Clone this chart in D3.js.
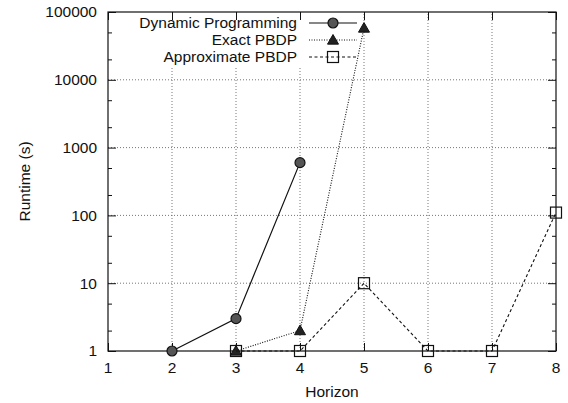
<!DOCTYPE html>
<html><head><meta charset="utf-8">
<script src="https://cdn.jsdelivr.net/npm/d3@7"></script>
<style>body{margin:0;background:#fff}svg{display:block}text{font-family:"Liberation Sans",Arial,Helvetica,sans-serif;fill:#111}</style>
</head><body><div id="chart"></div>
<script>
const horizonsDP = [2, 3, 4];
const valuesDP = [1, 3, 600];
const horizonsExact = [3, 4, 5];
const valuesExact = [1, 2, 58000];
const horizonsApprox = [3, 4, 5, 6, 7, 8];
const valuesApprox = [1, 1, 10, 1, 1, 110];
const xTicks = [1, 2, 3, 4, 5, 6, 7, 8];
const yTicks = [1, 10, 100, 1000, 10000, 100000];
const seriesNames = ["Dynamic Programming", "Exact PBDP", "Approximate PBDP"];

const W = 568, H = 403;
const m = {left: 108, right: 12, top: 12, bottom: 52};
const svg = d3.select("#chart").append("svg").attr("width", W).attr("height", H);
const x = d3.scaleLinear().domain([1, 8]).range([m.left, W - m.right]);
const y = d3.scaleLog().domain([1, 100000]).range([H - m.bottom, m.top]);
const fs = "15.5px";

// grid
const g = svg.append("g");
g.selectAll(".gx").data(xTicks.slice(1, -1)).join("line")
  .attr("x1", d => x(d)).attr("x2", d => x(d)).attr("y1", y(1)).attr("y2", y(100000))
  .attr("stroke", "#666").attr("stroke-width", 0.9).attr("stroke-dasharray", "1,2");
g.selectAll(".gy").data(yTicks.slice(1, -1)).join("line")
  .attr("y1", d => y(d)).attr("y2", d => y(d)).attr("x1", x(1)).attr("x2", x(8))
  .attr("stroke", "#666").attr("stroke-width", 0.9).attr("stroke-dasharray", "1,2");

// legend background (covers grid)
svg.append("rect").attr("x", 130).attr("y", y(100000) + 1).attr("width", 232).attr("height", 53).attr("fill", "#fff");

// axes with inward ticks
const minor = [];
for (let e = 0; e < 5; e++) { minor.push(2 * 10 ** e, 5 * 10 ** e); }
const axL = svg.append("g").attr("transform", `translate(${x(1)},0)`)
  .call(d3.axisRight(y).tickValues(yTicks).tickSize(8).tickFormat(""));
const axLm = svg.append("g").attr("transform", `translate(${x(1)},0)`)
  .call(d3.axisRight(y).tickValues(minor).tickSize(4).tickFormat(""));
const axR = svg.append("g").attr("transform", `translate(${x(8)},0)`)
  .call(d3.axisLeft(y).tickValues(yTicks).tickSize(8).tickFormat(""));
const axRm = svg.append("g").attr("transform", `translate(${x(8)},0)`)
  .call(d3.axisLeft(y).tickValues(minor).tickSize(4).tickFormat(""));
const axB = svg.append("g").attr("transform", `translate(0,${y(1)})`)
  .call(d3.axisTop(x).tickValues(xTicks).tickSize(8).tickFormat(""));
const axT = svg.append("g").attr("transform", `translate(0,${y(100000)})`)
  .call(d3.axisBottom(x).tickValues(xTicks).tickSize(8).tickFormat(""));
[axL, axLm, axR, axRm, axB, axT].forEach(a => { a.select(".domain").remove(); a.selectAll("line").attr("stroke", "#111"); });

svg.append("rect").attr("x", x(1)).attr("y", y(100000)).attr("width", x(8) - x(1)).attr("height", y(1) - y(100000))
  .attr("fill", "none").attr("stroke", "#111").attr("stroke-width", 1.2);

// tick labels
svg.selectAll(".yl").data(yTicks).join("text")
  .attr("x", 97).attr("y", d => y(d)).attr("dy", "0.35em").attr("text-anchor", "end")
  .style("font-size", fs).text(d => d);
svg.selectAll(".xl").data(xTicks).join("text")
  .attr("x", d => x(d)).attr("y", y(1) + 22).attr("text-anchor", "middle")
  .style("font-size", fs).text(d => d);
svg.append("text").attr("x", (x(1) + x(8)) / 2).attr("y", 397).attr("text-anchor", "middle")
  .style("font-size", fs).text("Horizon");
svg.append("text").attr("transform", `translate(30,${(y(1) + y(100000)) / 2}) rotate(-90)`)
  .attr("text-anchor", "middle").style("font-size", fs).text("Runtime (s)");

// series
const styles = [
  {dash: null, w: 1.2},
  {dash: "1,1.5", w: 1.1},
  {dash: "3,2.5", w: 1.1}
];
const line = d3.line().x(d => x(d[0])).y(d => y(d[1]));
const data = [
  d3.zip(horizonsDP, valuesDP),
  d3.zip(horizonsExact, valuesExact),
  d3.zip(horizonsApprox, valuesApprox)
];
function marker(sel, k, cx, cy) {
  if (k === 0) {
    sel.append("circle").attr("cx", cx).attr("cy", cy).attr("r", 5)
      .attr("fill", "#555").attr("stroke", "#111").attr("stroke-width", 1.2);
  } else if (k === 1) {
    const s = 5.5;
    sel.append("path").attr("d", `M${cx},${cy - s}L${cx + s},${cy + s * 0.75}L${cx - s},${cy + s * 0.75}Z`)
      .attr("fill", "#222").attr("stroke", "#111").attr("stroke-width", 1);
  } else {
    sel.append("rect").attr("x", cx - 5.5).attr("y", cy - 5.5).attr("width", 11).attr("height", 11)
      .attr("fill", "none").attr("stroke", "#111").attr("stroke-width", 1.2);
  }
}
data.forEach((d, k) => {
  const gs = svg.append("g");
  gs.append("path").datum(d).attr("d", line).attr("fill", "none").attr("stroke", "#111")
    .attr("stroke-width", styles[k].w).attr("stroke-dasharray", styles[k].dash);
  d.forEach(p => marker(gs, k, x(p[0]), y(p[1])));
});

// legend
const legY = [23, 40, 57];
seriesNames.forEach((n, k) => {
  const gl = svg.append("g");
  gl.append("text").attr("x", 297).attr("y", legY[k]).attr("dy", "0.35em").attr("text-anchor", "end")
    .style("font-size", fs).text(n);
  gl.append("line").attr("x1", 309).attr("x2", 357).attr("y1", legY[k]).attr("y2", legY[k])
    .attr("stroke", "#111").attr("stroke-width", styles[k].w).attr("stroke-dasharray", styles[k].dash);
  marker(gl, k, 333, legY[k]);
});
</script></body></html>
